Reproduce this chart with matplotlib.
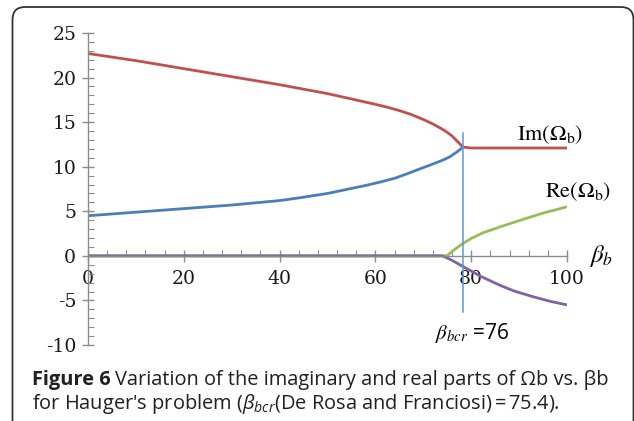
import numpy as np
import matplotlib
matplotlib.use("Agg")
import matplotlib.pyplot as plt
from matplotlib.patches import FancyBboxPatch
from matplotlib.ticker import MultipleLocator

plt.rcParams['mathtext.fontset'] = 'custom'
plt.rcParams['mathtext.rm'] = 'Open Sans'
plt.rcParams['mathtext.it'] = 'Open Sans:italic'
plt.rcParams['axes.unicode_minus'] = False

# Im(Omega_b): upper and lower branches, merged after beta_bcr
beta_upper = [0, 10, 20, 30, 40, 50, 60, 62.5, 65, 67.5, 70, 72, 74, 75, 76, 77, 78.3, 80, 90, 100]
im_upper = [22.7, 21.9, 21.0, 20.1, 19.2, 18.2, 17.0, 16.67, 16.3, 15.85, 15.3, 14.8, 14.2,
            13.85, 13.45, 12.9, 12.2, 12.1, 12.1, 12.1]
beta_lower = [0, 10, 20, 30, 40, 44, 50, 58, 61, 64, 66.5, 69, 72, 74, 75.5, 77, 78.3]
im_lower = [4.5, 4.9, 5.3, 5.7, 6.2, 6.5, 7.0, 7.9, 8.28, 8.7, 9.18, 9.7, 10.3, 10.72, 11.1, 11.65, 12.2]

# Re(Omega_b): +/- branches
beta_re_pos = [0, 74.9, 76.5, 78.3, 80, 82.5, 86, 90, 95, 100]
re_pos = [0, 0, 0.7, 1.4, 1.95, 2.6, 3.25, 3.95, 4.8, 5.5]
beta_re_neg = [0, 74, 76, 78.3, 82, 86, 89, 93, 96.5, 100]
re_neg = [0, 0, -0.5, -1.2, -2.3, -3.3, -3.95, -4.6, -5.1, -5.5]

beta_cr = 78.3
xticks = [0, 20, 40, 60, 80, 100]
yticks = [-10, -5, 0, 5, 10, 15, 20, 25]

W, H = 634, 421
fig = plt.figure(figsize=(W / 100, H / 100), dpi=100)
ax = fig.add_axes([88 / W, 1 - 345 / H, 479 / W, 312 / H])

ax.plot(beta_re_pos, re_pos, color='#9BBB59', lw=2.0, solid_capstyle='butt')
ax.plot(beta_re_neg, re_neg, color='#8064A2', lw=2.0, solid_capstyle='butt')
ax.plot(beta_upper, im_upper, color='#C0504D', lw=2.0, solid_capstyle='butt')
ax.plot(beta_lower, im_lower, color='#4A7EBB', lw=2.0, solid_capstyle='butt')
ax.plot([beta_cr, beta_cr], [13.8, -6.3], color='#5B9BD5', lw=1.1)

ax.set_xlim(0, 100)
ax.set_ylim(-10, 25)
for s in ['top', 'right']:
    ax.spines[s].set_visible(False)
ax.spines['bottom'].set_position(('data', 0))
for s in ['left', 'bottom']:
    ax.spines[s].set_color('#8c8c8c')
    ax.spines[s].set_linewidth(1.0)

ax.set_xticks(xticks)
ax.set_yticks(yticks)
ax.xaxis.set_minor_locator(MultipleLocator(4))
ax.yaxis.set_minor_locator(MultipleLocator(1))
ax.tick_params(which='major', direction='inout', length=9, width=1.0, color='#8c8c8c')
ax.tick_params(which='minor', direction='in', length=4, width=0.8, color='#8c8c8c')
ax.tick_params(axis='x', which='major', pad=6)
ax.tick_params(axis='y', which='major', pad=4)
for lab in ax.get_xticklabels() + ax.get_yticklabels():
    lab.set_fontfamily('DejaVu Serif')
    lab.set_fontsize(13.5)
    lab.set_color('#1a1a1a')

ax.text(89.6, 13.6, r'$\mathrm{Im}(\Omega_\mathrm{b})$', math_fontfamily='stix',
        fontsize=16, va='center', ha='left', clip_on=False)
ax.text(95.4, 7.2, r'$\mathrm{Re}(\Omega_\mathrm{b})$', math_fontfamily='stix',
        fontsize=16, va='center', ha='left', clip_on=False)
ax.text(104.5, 0.0, r'$\beta_b$', math_fontfamily='stix',
        fontsize=18, va='center', ha='left', clip_on=False)
ax.text(72.4, -8.7, r'$\beta_{bcr}$ =76', math_fontfamily='stix', family='Open Sans',
        fontsize=15, va='center', ha='left', clip_on=False)

# rounded frame (only left and top edges fall inside the image)
frame = FancyBboxPatch((12.5 / W, -0.1), (633.5 - 12.5) / W, 0.1 + 1 - 7 / H,
                       boxstyle='round,pad=0,rounding_size=0.02',
                       transform=fig.transFigure, fill=False,
                       edgecolor='#333333', lw=1.3, mutation_aspect=W / H)
fig.patches.append(frame)

# caption
cap_size = 14.4
t1 = fig.text(32 / W, 1 - 385 / H, 'Figure 6', family='Open Sans', weight='bold',
              fontsize=cap_size, color='#231f20', va='baseline')
fig.canvas.draw()
r = fig.canvas.get_renderer()
x1 = t1.get_window_extent(r).x1
fig.text(x1 / W + 4 / W, 1 - 385 / H,
         'Variation of the imaginary and real parts of \u03a9b vs. \u03b2b',
         family='Open Sans', fontsize=cap_size, color='#231f20', va='baseline')
fig.text(32 / W, 1 - 409 / H,
         r"for Hauger's problem ($\beta_{bcr}$(De Rosa and Franciosi)$\,$=$\,$75.4).",
         family='Open Sans', math_fontfamily='custom', fontsize=cap_size,
         color='#231f20', va='baseline')

fig.savefig('out.png', dpi=100)
